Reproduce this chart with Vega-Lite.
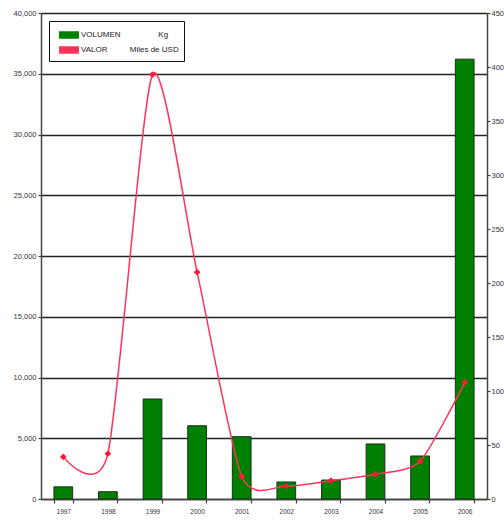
{
  "$schema": "https://vega.github.io/schema/vega-lite/v6.json",
  "autosize": {"type": "none"},
  "width": 446,
  "height": 486,
  "padding": {"left": 41, "top": 13, "right": 17, "bottom": 27},
  "background": "white",
  "config": {
    "view": {"stroke": null},
    "font": "Liberation Sans",
    "axis": {
      "labelFont": "Liberation Sans",
      "labelColor": "#333333",
      "domainColor": "#444444",
      "domainWidth": 1.5,
      "tickColor": "#444444",
      "tickWidth": 1.2
    },
    "legend": {
      "orient": "top-left",
      "offset": 8,
      "padding": 5,
      "symbolOffset": 6,
      "rowPadding": 0,
      "symbolSize": 256,
      "symbolOpacity": 1,
      "labelOffset": 3,
      "labelFont": "Liberation Sans",
      "labelFontSize": 8,
      "labelColor": "#222222",
      "strokeColor": "#111111",
      "fillColor": "white"
    }
  },
  "data": {
    "values": [
      {"anio": "1997", "volumen": 1000, "valor": 39},
      {"anio": "1998", "volumen": 600, "valor": 42},
      {"anio": "1999", "volumen": 8230, "valor": 393},
      {"anio": "2000", "volumen": 6030, "valor": 210},
      {"anio": "2001", "volumen": 5130, "valor": 21},
      {"anio": "2002", "volumen": 1400, "valor": 12},
      {"anio": "2003", "volumen": 1560, "valor": 17},
      {"anio": "2004", "volumen": 4530, "valor": 23},
      {"anio": "2005", "volumen": 3540, "valor": 35},
      {"anio": "2006", "volumen": 36200, "valor": 108}
    ]
  },
  "encoding": {
    "x": {
      "field": "anio",
      "type": "ordinal",
      "scale": {"paddingInner": 0.58, "paddingOuter": 0.29},
      "axis": {
        "title": null,
        "labelAngle": 0,
        "tickBand": "extent",
        "tickSize": 4,
        "labelFontSize": 6.5,
        "labelPadding": 5
      }
    }
  },
  "layer": [
    {
      "mark": {"type": "bar", "stroke": "#1e2e1e", "strokeWidth": 1},
      "encoding": {
        "y": {
          "field": "volumen",
          "type": "quantitative",
          "scale": {"domain": [0, 40000], "nice": false},
          "axis": {
            "title": null,
            "values": [0, 5000, 10000, 15000, 20000, 25000, 30000, 35000, 40000],
            "format": ",d",
            "grid": true,
            "gridColor": "#222222",
            "gridWidth": 1.6,
            "tickSize": 3,
            "labelFontSize": 7.5,
            "labelPadding": 2
          }
        },
        "color": {
          "datum": "VOLUMEN",
          "scale": {"domain": ["VOLUMEN", "VALOR"], "range": ["#008000", "#ff3358"]},
          "legend": {
            "title": null,
            "symbolType": "M-1.15,-0.375H1.15V0.375H-1.15Z",
            "labelExpr": "datum.value == 'VOLUMEN' ? 'VOLUMEN\u00a0\u00a0\u00a0\u00a0\u00a0\u00a0\u00a0\u00a0\u00a0\u00a0\u00a0\u00a0\u00a0\u00a0\u00a0\u00a0\u00a0Kg' : 'VALOR\u00a0\u00a0\u00a0\u00a0\u00a0\u00a0\u00a0\u00a0\u00a0\u00a0Miles de USD\u00a0\u00a0\u00a0'"
          }
        }
      }
    },
    {
      "encoding": {
        "y": {
          "field": "valor",
          "type": "quantitative",
          "scale": {"domain": [0, 450], "nice": false},
          "axis": {
            "title": null,
            "orient": "right",
            "values": [0, 50, 100, 150, 200, 250, 300, 350, 400, 450],
            "grid": false,
            "tickSize": 3,
            "labelFontSize": 7.5,
            "labelPadding": 1
          }
        }
      },
      "layer": [
        {
          "mark": {"type": "line", "interpolate": "cardinal", "tension": 0.3, "strokeWidth": 1.5},
          "encoding": {
            "color": {"datum": "VALOR", "legend": null}
          }
        },
        {
          "mark": {"type": "point", "shape": "diamond", "filled": true, "size": 45, "color": "#ff1a3c", "opacity": 1}
        }
      ]
    }
  ],
  "resolve": {"scale": {"y": "independent"}}
}
